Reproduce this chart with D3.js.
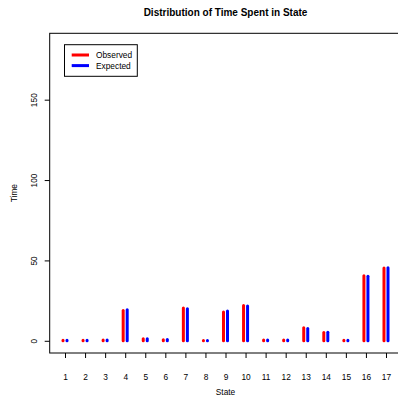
<!DOCTYPE html>
<html><head><meta charset="utf-8">
<script src="https://cdn.jsdelivr.net/npm/d3@7"></script>
<style>body{margin:0;background:#fff}svg{display:block}text{font-family:"Liberation Sans",Arial,sans-serif;fill:#000}</style>
</head><body>
<script>
const states = [1,2,3,4,5,6,7,8,9,10,11,12,13,14,15,16,17];
const observed = [0.3,0.3,0.5,18.9,1.2,0.7,20.4,0.2,17.9,22.0,0.5,0.5,8.1,5.2,0.3,40.5,45.3];
const expected = [0.3,0.3,0.5,19.3,1.3,0.8,19.9,0.2,18.5,21.6,0.5,0.5,7.7,5.3,0.3,40.1,45.5];
const yTicks = [0,50,100,150];
const seriesNames = ["Observed","Expected"];
const seriesColors = ["#ff0000","#0000ff"];

const W=398,H=398;
const svg=d3.select("body").append("svg").attr("width",W).attr("height",H);
const L=49.7,R=401.3,T=33.3,B=353;
const x=d3.scaleLinear().domain([0.237,17.763]).range([L,R]);
const y=d3.scaleLinear().domain([-7.6,191.3]).range([B,T]);

// bars (type="h")
const off=[-0.1,0.1];
[observed,expected].forEach((vals,si)=>{
  svg.append("g").selectAll("line").data(states).join("line")
    .attr("x1",(d,i)=>x(d+off[si])).attr("x2",(d,i)=>x(d+off[si]))
    .attr("y1",y(0)).attr("y2",(d,i)=>y(vals[i]))
    .attr("stroke",seriesColors[si]).attr("stroke-width",3).attr("stroke-linecap","round");
});

// box
svg.append("rect").attr("x",L).attr("y",T).attr("width",R-L).attr("height",B-T)
  .attr("fill","none").attr("stroke","#000").attr("stroke-width",1);

// x axis
const xa=svg.append("g").attr("transform",`translate(0,${B})`)
  .call(d3.axisBottom(x).tickValues(states).tickFormat(d3.format("d")).tickSize(5).tickPadding(14));
xa.select(".domain").remove();
xa.selectAll("text").attr("font-size",8.33).attr("font-family","Liberation Sans, Arial, sans-serif").attr("dy",null).attr("y",26.5);
xa.selectAll("line").attr("stroke","#000");

// y axis
const ya=svg.append("g").attr("transform",`translate(${L},0)`)
  .call(d3.axisLeft(y).tickValues(yTicks).tickSize(5));
ya.select(".domain").remove();
ya.selectAll("line").attr("stroke","#000");
ya.selectAll("text").attr("font-size",8.33).attr("font-family","Liberation Sans, Arial, sans-serif")
  .attr("x",null).attr("dy",null).attr("text-anchor","middle")
  .attr("transform","translate(-13.2,0) rotate(-90)").attr("y",0);

// titles
svg.append("text").attr("x",(L+R)/2).attr("y",16).attr("text-anchor","middle")
  .attr("font-size",10).attr("font-weight","bold").text("Distribution of Time Spent in State");
svg.append("text").attr("x",(L+R)/2).attr("y",394.5).attr("text-anchor","middle")
  .attr("font-size",8.33).text("State");
svg.append("text").attr("transform",`translate(17,${(T+B)/2}) rotate(-90)`).attr("text-anchor","middle")
  .attr("font-size",8.33).text("Time");

// legend
const lg=svg.append("g");
lg.append("rect").attr("x",64.5).attr("y",44.7).attr("width",72.8).attr("height",31.6)
  .attr("fill","#fff").attr("stroke","#000").attr("stroke-width",1);
seriesNames.forEach((n,i)=>{
  const yy=55+i*10.6;
  lg.append("line").attr("x1",71.7).attr("x2",89).attr("y1",yy).attr("y2",yy)
    .attr("stroke",seriesColors[i]).attr("stroke-width",3);
  lg.append("text").attr("x",96).attr("y",yy+3).attr("font-size",8.33).text(n);
});
</script>
</body></html>
